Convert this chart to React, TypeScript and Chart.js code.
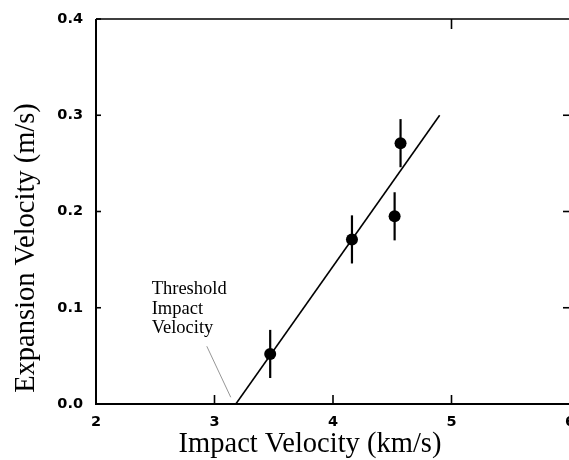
import React, { useEffect, useRef } from "react";
import { Chart, registerables } from "chart.js";

Chart.register(...registerables);

// ---- data ----
const impactVelocity = [3.47, 4.16, 4.52, 4.57];
const expansionVelocity = [0.052, 0.171, 0.195, 0.271];
const expansionError = [0.025, 0.025, 0.025, 0.025];
const fitLineX = [3.18, 4.9];
const fitLineY = [0.0, 0.3];
const leaderLineX = [2.935, 3.137];
const leaderLineY = [0.06, 0.007];
const xTickValues = [2, 3, 4, 5, 6];
const yTickValues = [0.0, 0.1, 0.2, 0.3, 0.4];
const topTickValues = [5];
const rightTickValues = [0.1, 0.2, 0.3];
const annotationLines = ["Threshold", "Impact", "Velocity"];
const annotationAnchor = [2.47, 0.114];
const xTitle = "Impact Velocity (km/s)";
const yTitle = "Expansion Velocity (m/s)";

const SERIF = '"Liberation Serif", "Times New Roman", serif';

const decorPlugin = {
  id: "decor",
  beforeDatasetsDraw(chart: any) {
    const { ctx, scales } = chart;
    const x = scales.x;
    const y = scales.y;
    ctx.save();
    ctx.strokeStyle = "#000";
    ctx.lineWidth = 2.2;
    impactVelocity.forEach((v, i) => {
      const px = x.getPixelForValue(v);
      ctx.beginPath();
      ctx.moveTo(px, y.getPixelForValue(expansionVelocity[i] - expansionError[i]));
      ctx.lineTo(px, y.getPixelForValue(expansionVelocity[i] + expansionError[i]));
      ctx.stroke();
    });
    ctx.restore();
  },
  afterDraw(chart: any) {
    const { ctx, chartArea: ca, scales } = chart;
    const x = scales.x;
    const y = scales.y;
    ctx.save();
    ctx.strokeStyle = "#000";
    // frame
    ctx.lineWidth = 2;
    ctx.beginPath();
    ctx.moveTo(ca.left, ca.top);
    ctx.lineTo(ca.left, ca.bottom);
    ctx.lineTo(ca.right, ca.bottom);
    ctx.stroke();
    ctx.lineWidth = 1.6;
    ctx.beginPath();
    ctx.moveTo(ca.left, ca.top);
    ctx.lineTo(ca.right, ca.top);
    ctx.lineTo(ca.right, ca.bottom);
    ctx.stroke();
    // inward tick marks
    ctx.lineWidth = 1.6;
    xTickValues.forEach((v) => {
      const px = x.getPixelForValue(v);
      ctx.beginPath();
      ctx.moveTo(px, ca.bottom);
      ctx.lineTo(px, ca.bottom - 9);
      ctx.stroke();
    });
    topTickValues.forEach((v) => {
      const px = x.getPixelForValue(v);
      ctx.beginPath();
      ctx.moveTo(px, ca.top);
      ctx.lineTo(px, ca.top + 10);
      ctx.stroke();
    });
    yTickValues.forEach((v) => {
      const py = y.getPixelForValue(v);
      ctx.beginPath();
      ctx.moveTo(ca.left, py);
      ctx.lineTo(ca.left + 5, py);
      ctx.stroke();
    });
    rightTickValues.forEach((v) => {
      const py = y.getPixelForValue(v);
      ctx.beginPath();
      ctx.moveTo(ca.right, py);
      ctx.lineTo(ca.right - 7, py);
      ctx.stroke();
    });
    // annotation text
    ctx.fillStyle = "#000";
    ctx.font = `18.5px ${SERIF}`;
    ctx.textAlign = "left";
    ctx.textBaseline = "alphabetic";
    const ax = x.getPixelForValue(annotationAnchor[0]);
    const ay = y.getPixelForValue(annotationAnchor[1]);
    annotationLines.forEach((t, i) => {
      ctx.fillText(t, ax, ay + i * 19.5);
    });
    // axis titles
    ctx.font = `28.5px ${SERIF}`;
    ctx.textAlign = "center";
    ctx.fillText(xTitle, 310, 452);
    ctx.translate(34, 248);
    ctx.rotate(-Math.PI / 2);
    ctx.fillText(yTitle, 0, 0);
    ctx.restore();
  },
};

export default function App() {
  const canvasRef = useRef<HTMLCanvasElement | null>(null);

  useEffect(() => {
    const canvas = canvasRef.current;
    if (!canvas) return;
    const chart = new Chart(canvas, {
      type: "scatter",
      data: {
        datasets: [
          {
            label: "measured",
            data: impactVelocity.map((v, i) => ({ x: v, y: expansionVelocity[i] })),
            backgroundColor: "#000",
            borderColor: "#000",
            pointRadius: 6,
            borderWidth: 0,
            showLine: false,
            order: 0,
          },
          {
            label: "fit",
            data: fitLineX.map((v, i) => ({ x: v, y: fitLineY[i] })),
            borderColor: "#000",
            borderWidth: 1.6,
            pointRadius: 0,
            showLine: true,
            order: 1,
          },
          {
            label: "leader",
            data: leaderLineX.map((v, i) => ({ x: v, y: leaderLineY[i] })),
            borderColor: "#8a8a8a",
            borderWidth: 0.9,
            pointRadius: 0,
            showLine: true,
            order: 2,
          },
        ],
      },
      options: {
        animation: false,
        responsive: false,
        devicePixelRatio: 1,
        layout: { padding: { top: 19, right: 30, left: 0, bottom: 0 } },
        plugins: {
          legend: { display: false },
          tooltip: { enabled: false },
        },
        scales: {
          x: {
            type: "linear",
            min: 2,
            max: 6,
            grid: { display: false },
            border: { display: false },
            ticks: {
              stepSize: 1,
              color: "#000",
              padding: 2,
              font: { family: '"DejaVu Sans"', size: 14.5, weight: "bold" },
            },
            afterFit: (s: any) => {
              s.height = 56;
            },
          },
          y: {
            type: "linear",
            min: 0,
            max: 0.4,
            grid: { display: false },
            border: { display: false },
            ticks: {
              stepSize: 0.1,
              color: "#000",
              padding: 5,
              font: { family: '"DejaVu Sans"', size: 14.5, weight: "bold" },
              callback: (v: any) => Number(v).toFixed(1),
            },
            afterFit: (s: any) => {
              s.width = 96;
            },
          },
        },
      },
      plugins: [decorPlugin],
    });
    return () => chart.destroy();
  }, []);

  return (
    <div
      style={{
        position: "fixed",
        left: 0,
        top: 0,
        width: 569,
        height: 460,
        overflow: "hidden",
        background: "#fff",
      }}
    >
      <canvas ref={canvasRef} width={600} height={460} style={{ display: "block" }} />
    </div>
  );
}
